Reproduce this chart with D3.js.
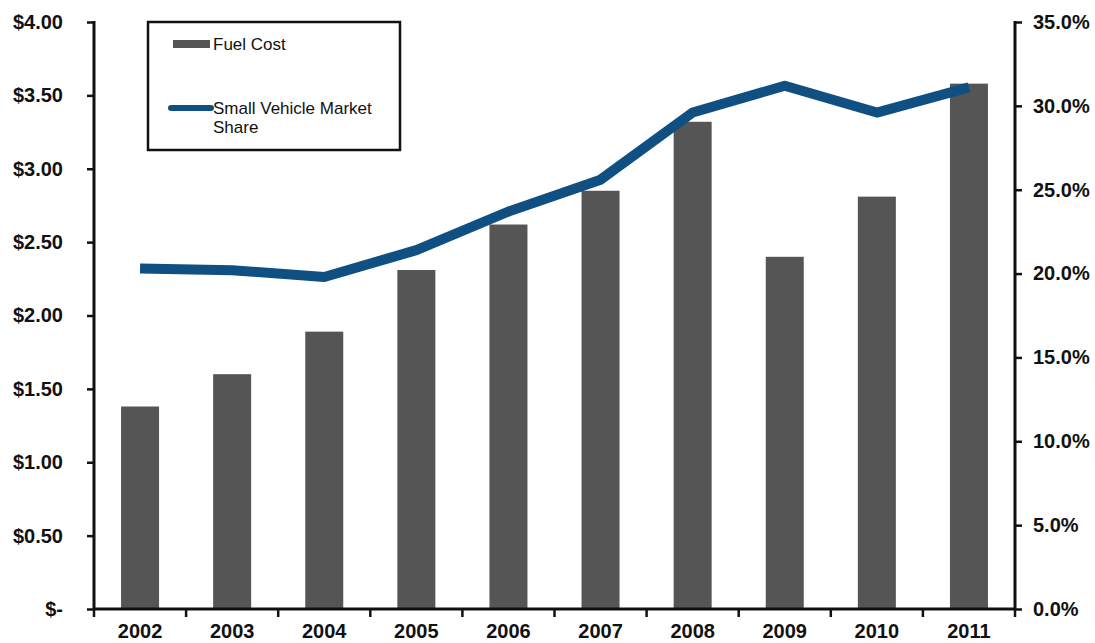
<!DOCTYPE html>
<html>
<head>
<meta charset="utf-8">
<script src="https://cdn.jsdelivr.net/npm/d3@7"></script>
<style>
  body { margin: 0; background: #fff; }
  svg text { font-family: "Liberation Sans", Arial, sans-serif; }
</style>
</head>
<body>
<div id="chart"></div>
<script>
// datos
var years = ["2002", "2003", "2004", "2005", "2006", "2007", "2008", "2009", "2010", "2011"];
var fuelCost = [1.38, 1.60, 1.89, 2.31, 2.62, 2.85, 3.32, 2.40, 2.81, 3.58];
var marketShare = [20.3, 20.2, 19.8, 21.4, 23.7, 25.6, 29.6, 31.2, 29.6, 31.1];
var costTicks = [0, 0.5, 1, 1.5, 2, 2.5, 3, 3.5, 4];
var shareTicks = [0, 5, 10, 15, 20, 25, 30, 35];

var width = 1095, height = 643;
var plotLeft = 94, plotRight = 1015, plotTop = 22, plotBottom = 609;

var svg = d3.select("#chart").append("svg")
    .attr("width", width)
    .attr("height", height);

var x = d3.scaleBand().domain(years).range([plotLeft, plotRight]);
var yL = d3.scaleLinear().domain([0, 4]).range([plotBottom, plotTop]);
var yR = d3.scaleLinear().domain([0, 35]).range([plotBottom, plotTop]);

// barras
svg.selectAll(".bar")
    .data(years)
    .enter()
    .append("rect")
    .attr("class", "bar")
    .attr("x", function(d) { return x(d) + x.bandwidth() / 2 - 19; })
    .attr("width", 38)
    .attr("y", function(d, i) { return yL(fuelCost[i]); })
    .attr("height", function(d, i) { return plotBottom - yL(fuelCost[i]); })
    .attr("fill", "#555555");

// linea
var line = d3.line()
    .x(function(d, i) { return x(years[i]) + x.bandwidth() / 2; })
    .y(function(d) { return yR(d); });

svg.append("path")
    .datum(marketShare)
    .attr("d", line)
    .attr("fill", "none")
    .attr("stroke", "#0f4f82")
    .attr("stroke-width", 10)
    .attr("stroke-linejoin", "round");

// ejes
var axisL = d3.axisLeft(yL)
    .tickValues(costTicks)
    .tickSize(7)
    .tickPadding(24)
    .tickFormat(function(d) { return d === 0 ? "$-" : "$" + d3.format(".2f")(d); });

var axisR = d3.axisRight(yR)
    .tickValues(shareTicks)
    .tickSize(7)
    .tickPadding(11)
    .tickFormat(function(d) { return d3.format(".1f")(d) + "%"; });

var gL = svg.append("g").attr("transform", "translate(" + plotLeft + ",0)").call(axisL);
var gR = svg.append("g").attr("transform", "translate(" + plotRight + ",0)").call(axisR);

[gL, gR].forEach(function(g) {
  g.select(".domain").remove();
  g.selectAll(".tick line").attr("stroke", "#111").attr("stroke-width", 2.5);
  g.selectAll(".tick text")
      .attr("fill", "#111")
      .style("font-size", "20px")
      .style("font-weight", "bold");
});

svg.append("line")
    .attr("x1", plotLeft).attr("x2", plotLeft)
    .attr("y1", plotTop - 1).attr("y2", plotBottom + 1)
    .attr("stroke", "#111").attr("stroke-width", 3);
svg.append("line")
    .attr("x1", plotRight).attr("x2", plotRight)
    .attr("y1", plotTop - 1).attr("y2", plotBottom + 1)
    .attr("stroke", "#111").attr("stroke-width", 3);
svg.append("line")
    .attr("x1", plotLeft).attr("x2", plotRight)
    .attr("y1", plotBottom).attr("y2", plotBottom)
    .attr("stroke", "#111").attr("stroke-width", 3);

// marcas entre categorias
var bounds = years.map(function(d) { return x(d); }).concat([plotRight]);
svg.selectAll(".xtick")
    .data(bounds)
    .enter()
    .append("line")
    .attr("x1", function(d) { return d; })
    .attr("x2", function(d) { return d; })
    .attr("y1", plotBottom)
    .attr("y2", plotBottom + 8)
    .attr("stroke", "#111")
    .attr("stroke-width", 2.5);

svg.selectAll(".xlabel")
    .data(years)
    .enter()
    .append("text")
    .attr("x", function(d) { return x(d) + x.bandwidth() / 2; })
    .attr("y", 638)
    .attr("text-anchor", "middle")
    .style("font-size", "20px")
    .style("font-weight", "bold")
    .attr("fill", "#111")
    .text(function(d) { return d; });

// leyenda
var leg = svg.append("g");
leg.append("rect")
    .attr("x", 148).attr("y", 22)
    .attr("width", 252).attr("height", 128)
    .attr("fill", "#fff")
    .attr("stroke", "#111")
    .attr("stroke-width", 2.5);
leg.append("rect")
    .attr("x", 173).attr("y", 40)
    .attr("width", 37).attr("height", 8)
    .attr("fill", "#555555");
leg.append("text")
    .attr("x", 213).attr("y", 50)
    .style("font-size", "17px")
    .attr("fill", "#111")
    .text("Fuel Cost");
leg.append("line")
    .attr("x1", 171).attr("x2", 211)
    .attr("y1", 108).attr("y2", 108)
    .attr("stroke", "#0f4f82")
    .attr("stroke-width", 6)
    .attr("stroke-linecap", "round");
leg.append("text")
    .attr("x", 213).attr("y", 114)
    .style("font-size", "17px")
    .attr("fill", "#111")
    .text("Small Vehicle Market");
leg.append("text")
    .attr("x", 213).attr("y", 133)
    .style("font-size", "17px")
    .attr("fill", "#111")
    .text("Share");
</script>
</body>
</html>
